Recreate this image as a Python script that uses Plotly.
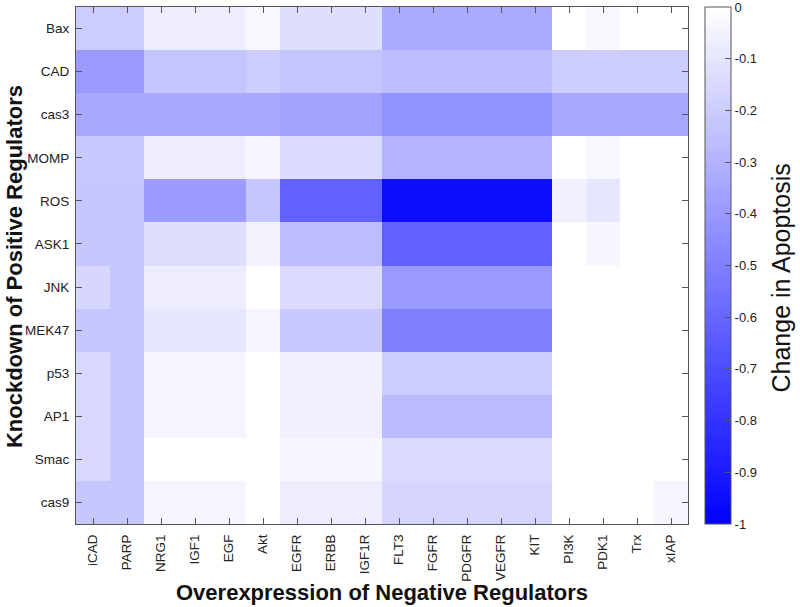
import plotly.graph_objects as go

columns = ["iCAD", "PARP", "NRG1", "IGF1", "EGF", "Akt", "EGFR", "ERBB", "IGF1R",
           "FLT3", "FGFR", "PDGFR", "VEGFR", "KIT", "PI3K", "PDK1", "Trx", "xIAP"]
rows = ["Bax", "CAD", "cas3", "MOMP", "ROS", "ASK1", "JNK", "MEK47", "p53", "AP1", "Smac", "cas9"]

#          iCAD   PARP   NRG1   IGF1   EGF    Akt    EGFR   ERBB   IGF1R  FLT3   FGFR   PDGFR  VEGFR  KIT    PI3K   PDK1   Trx    xIAP
bax   = [-0.20, -0.20, -0.07, -0.07, -0.07, -0.03, -0.13, -0.13, -0.13, -0.33, -0.33, -0.33, -0.33, -0.33, 0.00, -0.03, 0.00, 0.00]
cad   = [-0.40, -0.40, -0.23, -0.23, -0.23, -0.20, -0.23, -0.23, -0.23, -0.26, -0.26, -0.26, -0.26, -0.26, -0.20, -0.20, -0.20, -0.20]
cas3  = [-0.34, -0.34, -0.34, -0.34, -0.34, -0.34, -0.36, -0.36, -0.36, -0.43, -0.43, -0.43, -0.43, -0.43, -0.34, -0.34, -0.34, -0.34]
momp  = [-0.21, -0.21, -0.07, -0.07, -0.07, -0.035, -0.14, -0.14, -0.14, -0.29, -0.29, -0.29, -0.29, -0.29, 0.00, -0.03, 0.00, 0.00]
ros   = [-0.22, -0.22, -0.39, -0.39, -0.39, -0.22, -0.62, -0.62, -0.62, -0.95, -0.95, -0.95, -0.95, -0.95, -0.06, -0.10, 0.00, 0.00]
ask1  = [-0.22, -0.22, -0.13, -0.13, -0.13, -0.05, -0.26, -0.26, -0.26, -0.62, -0.62, -0.62, -0.62, -0.62, 0.00, -0.035, 0.00, 0.00]
jnk   = [-0.16, -0.22, -0.07, -0.07, -0.07, 0.00, -0.14, -0.14, -0.14, -0.40, -0.40, -0.40, -0.40, -0.40, 0.00, 0.00, 0.00, 0.00]
mek47 = [-0.22, -0.22, -0.10, -0.10, -0.10, -0.04, -0.21, -0.21, -0.21, -0.50, -0.50, -0.50, -0.50, -0.50, 0.00, 0.00, 0.00, 0.00]
p53   = [-0.15, -0.22, -0.04, -0.04, -0.04, 0.00, -0.06, -0.06, -0.06, -0.20, -0.20, -0.20, -0.20, -0.20, 0.00, 0.00, 0.00, 0.00]
ap1   = [-0.15, -0.22, -0.04, -0.04, -0.04, 0.00, -0.06, -0.06, -0.06, -0.27, -0.27, -0.27, -0.27, -0.27, 0.00, 0.00, 0.00, 0.00]
smac  = [-0.15, -0.22, 0.00, 0.00, 0.00, 0.00, -0.035, -0.035, -0.035, -0.14, -0.14, -0.14, -0.14, -0.14, 0.00, 0.00, 0.00, 0.00]
cas9  = [-0.22, -0.22, -0.04, -0.04, -0.04, 0.00, -0.07, -0.07, -0.07, -0.17, -0.17, -0.17, -0.17, -0.17, 0.00, 0.00, 0.00, -0.04]

z = [bax, cad, cas3, momp, ros, ask1, jnk, mek47, p53, ap1, smac, cas9]

cbar_ticks = [0, -0.1, -0.2, -0.3, -0.4, -0.5, -0.6, -0.7, -0.8, -0.9, -1]
cbar_labels = ["0", "-0.1", "-0.2", "-0.3", "-0.4", "-0.5", "-0.6", "-0.7", "-0.8", "-0.9", "-1"]

x_title = "Overexpression of Negative Regulators"
y_title = "Knockdown of Positive Regulators"
cbar_title = "Change in Apoptosis"

FONT = "Liberation Sans, Arial, Helvetica, sans-serif"
AXC = "#555555"
TXT = "#222222"

fig = go.Figure(go.Heatmap(
    z=z, x=columns, y=rows,
    zmin=-1, zmax=0,
    colorscale=[[0, "rgb(0,0,255)"], [1, "rgb(255,255,255)"]],
    colorbar=dict(
        x=1.028, xanchor="left", xref="paper", xpad=0, ypad=0,
        y=0.5, yanchor="middle", len=1.0, lenmode="fraction",
        thickness=26, thicknessmode="pixels",
        outlinewidth=1, outlinecolor=AXC,
        tickmode="array", tickvals=cbar_ticks, ticktext=cbar_labels,
        ticks="inside", ticklen=6, tickcolor=AXC,
        ticklabeloverflow="allow",
        tickfont=dict(family=FONT, size=13, color=TXT),
    ),
    hoverongaps=False,
))

fig.update_layout(
    width=800, height=607,
    margin=dict(l=76, r=112, t=7, b=83, autoexpand=False),
    paper_bgcolor="white", plot_bgcolor="white",
    font=dict(family=FONT, color=TXT),
    xaxis=dict(
        tickangle=-90, tickfont=dict(family=FONT, size=13.5, color=TXT),
        ticks="inside", ticklen=6, tickcolor=AXC, mirror="ticks",
        showline=True, linecolor=AXC, linewidth=1, showgrid=False, zeroline=False,
        ticklabelstandoff=4, automargin=False,
    ),
    yaxis=dict(
        autorange="reversed", tickfont=dict(family=FONT, size=13.5, color=TXT),
        ticks="inside", ticklen=6, tickcolor=AXC, mirror="ticks",
        showline=True, linecolor=AXC, linewidth=1, showgrid=False, zeroline=False,
        ticklabelstandoff=3, automargin=False,
    ),
    annotations=[
        dict(text=x_title, xref="paper", yref="paper", x=0.5, y=-0.1332,
             xanchor="center", yanchor="middle", showarrow=False,
             font=dict(family=FONT, size=22, color="#111111", weight="bold")),
        dict(text=y_title, xref="paper", yref="paper", x=-0.1013, y=0.497,
             xanchor="center", yanchor="middle", showarrow=False, textangle=-90,
             font=dict(family=FONT, size=22, color="#111111", weight="bold")),
        dict(text=cbar_title, xref="paper", yref="paper", x=1.152, y=0.4749,
             xanchor="center", yanchor="middle", showarrow=False, textangle=-90,
             font=dict(family=FONT, size=25, color="#111111")),
    ],
)

fig.write_html("out.html", config={"displayModeBar": False},
               post_script="document.body.style.margin='0';")
